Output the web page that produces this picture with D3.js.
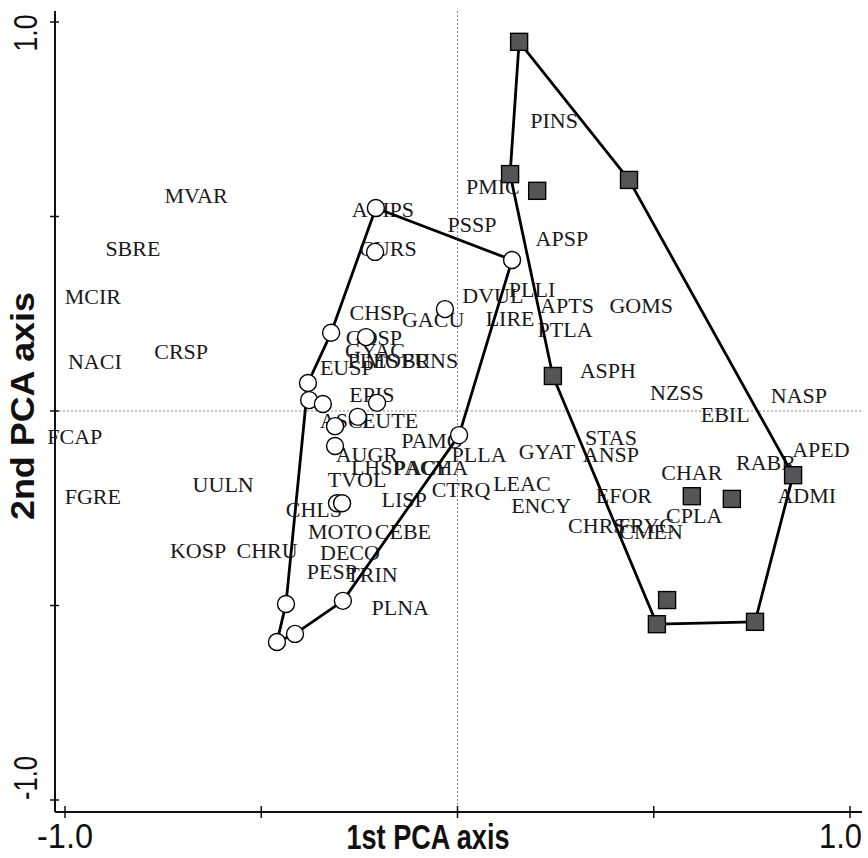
<!DOCTYPE html>
<html>
<head>
<meta charset="utf-8">
<script src="https://cdn.jsdelivr.net/npm/d3@7"></script>
<style>
  html, body { margin: 0; padding: 0; background: #fff; }
  svg { display: block; }
</style>
</head>
<body>
<svg id="chart" width="868" height="858"></svg>
<script>
// ---- Data ----
const labelNames = ["MVAR","SBRE","MCIR","CRSP","NACI","FCAP","UULN","FGRE","KOSP","CHRU",
  "PINS","PMIC","ACIPS","PSSP","CURS","APSP","PLLI","DVUL","APTS","GOMS",
  "CHSP","LIRE","GACU","PTLA","GOSP","GYAC","PLES","MOBR","FUNS","EUSP",
  "ASPH","NZSS","EPIS","NASP","EBIL","ASCI","EUTE","STAS","PAMO","APED",
  "PLLA","ANSP","GYAT","AUGR","RABR","LHSP","PACY","ACHA","CHAR","TVOL",
  "LEAC","CTRQ","ADMI","EFOR","LISP","ENCY","CHLS","CPLA","CHRS","FRYC",
  "CMEN","MOTO","CEBE","DECO","PESP","TRIN","PLNA"];
const labelX = [-0.666,-0.827,-0.929,-0.704,-0.924,-0.975,-0.597,-0.929,-0.661,-0.485,
  0.246,0.090,-0.190,0.037,-0.177,0.266,0.190,0.090,0.279,0.468,
  -0.205,0.134,-0.062,0.274,-0.213,-0.210,-0.215,-0.152,-0.070,-0.282,
  0.383,0.559,-0.218,0.870,0.682,-0.287,-0.172,0.391,-0.065,0.926,
  0.055,0.391,0.228,-0.231,0.786,-0.203,-0.090,-0.052,0.597,-0.256,
  0.164,0.009,0.890,0.424,-0.136,0.213,-0.366,0.603,0.355,0.480,
  0.493,-0.299,-0.139,-0.274,-0.320,-0.218,-0.146];
const labelY = [0.535,0.398,0.275,0.134,0.108,-0.085,-0.208,-0.239,-0.378,-0.378,
  0.728,0.558,0.499,0.460,0.398,0.424,0.293,0.278,0.252,0.252,
  0.234,0.219,0.216,0.190,0.170,0.136,0.111,0.111,0.111,0.093,
  0.085,0.028,0.023,0.021,-0.028,-0.044,-0.044,-0.087,-0.095,-0.118,
  -0.131,-0.131,-0.123,-0.131,-0.152,-0.165,-0.165,-0.165,-0.177,-0.195,
  -0.206,-0.221,-0.237,-0.237,-0.247,-0.262,-0.272,-0.288,-0.314,-0.314,
  -0.329,-0.329,-0.329,-0.383,-0.432,-0.440,-0.524];

// Group 1: open circles
const circleX = [-0.208,-0.210,0.139,-0.032,-0.322,-0.233,-0.381,-0.378,-0.343,-0.205,
  -0.254,-0.312,-0.312,0.004,-0.307,-0.294,-0.437,-0.292,-0.414,-0.460];
const circleY = [0.522,0.409,0.388,0.262,0.201,0.190,0.072,0.028,0.018,0.021,
  -0.015,-0.039,-0.090,-0.062,-0.237,-0.237,-0.496,-0.488,-0.573,-0.594];
const circleHull = [0,2,13,17,18,19,16,6,4];

// Group 2: filled squares
const squareX = [0.157,0.134,0.203,0.437,0.243,0.597,0.699,0.855,0.534,0.508,0.758];
const squareY = [0.949,0.609,0.566,0.594,0.090,-0.219,-0.226,-0.165,-0.486,-0.548,-0.542];
const squareHull = [0,3,7,10,9,4,1];

const xTicks = [-1,-0.5,0,0.5,1];
const yTicks = [-1,-0.5,0,0.5,1];
const xTickLabels = ["-1.0","","","","1.0"];
const yTickLabels = ["-1.0","","","","1.0"];
const xTitle = "1st PCA axis";
const yTitle = "2nd PCA axis";

// ---- Drawing ----
const svg = d3.select("#chart");
const x = d3.scaleLinear().domain([-1,1]).range([65,850]);
const y = d3.scaleLinear().domain([-1,1]).range([800,22]);
const axisX0 = 55, axisY0 = 812, axisXEnd = 862, axisYTop = 11;

// reference dotted lines
svg.append("line").attr("x1", x(0)).attr("x2", x(0)).attr("y1", axisYTop).attr("y2", axisY0)
  .attr("stroke", "#8a8a8a").attr("stroke-width", 1).attr("stroke-dasharray", "2,2");
svg.append("line").attr("x1", axisX0).attr("x2", axisXEnd).attr("y1", y(0)).attr("y2", y(0))
  .attr("stroke", "#8a8a8a").attr("stroke-width", 1).attr("stroke-dasharray", "2,2");

// axes
const gx = svg.append("g").attr("transform", `translate(0,${axisY0})`);
gx.append("line").attr("x1", axisX0).attr("x2", axisXEnd).attr("stroke", "#111").attr("stroke-width", 2);
gx.selectAll("line.tick").data(xTicks).enter().append("line")
  .attr("x1", d => x(d)).attr("x2", d => x(d)).attr("y1", -6).attr("y2", 6)
  .attr("stroke", "#111").attr("stroke-width", 1.5);
gx.selectAll("text.tl").data(xTicks).enter().append("text")
  .attr("x", d => d >= 1 ? 862 : x(d)).attr("y", 36)
  .attr("text-anchor", d => d >= 1 ? "end" : "middle")
  .attr("font-family", "Liberation Sans, Arial, sans-serif").attr("font-size", 35)
  .attr("fill", "#111")
  .attr("textLength", (d,i) => xTickLabels[i] ? (xTickLabels[i].length === 4 ? 56 : 43) : null)
  .attr("lengthAdjust", "spacingAndGlyphs")
  .text((d,i) => xTickLabels[i]);

const gy = svg.append("g").attr("transform", `translate(${axisX0},0)`);
gy.append("line").attr("y1", axisYTop).attr("y2", axisY0).attr("stroke", "#111").attr("stroke-width", 2);
gy.selectAll("line.tick").data(yTicks).enter().append("line")
  .attr("y1", d => y(d)).attr("y2", d => y(d)).attr("x1", -5).attr("x2", 4)
  .attr("stroke", "#111").attr("stroke-width", 1.5);
gy.selectAll("text.tl").data(yTicks).enter().append("text")
  .attr("transform", (d,i) => {
    const cy = d > 0 ? y(d) + 11 : y(d) - 22;
    return `translate(-18,${cy}) rotate(-90)`;
  })
  .attr("text-anchor", "middle")
  .attr("font-family", "Liberation Sans, Arial, sans-serif").attr("font-size", 33)
  .attr("fill", "#111")
  .attr("textLength", (d,i) => yTickLabels[i] ? (yTickLabels[i].length === 4 ? 44 : 37) : null)
  .attr("lengthAdjust", "spacingAndGlyphs")
  .text((d,i) => yTickLabels[i]);

// titles
svg.append("text").attr("x", 428).attr("y", 849).attr("text-anchor", "middle")
  .attr("font-family", "Liberation Sans, Arial, sans-serif").attr("font-weight", "bold")
  .attr("font-size", 35).attr("fill", "#111")
  .attr("textLength", 163).attr("lengthAdjust", "spacingAndGlyphs")
  .text(xTitle);
svg.append("text").attr("transform", "translate(34,406) rotate(-90)").attr("text-anchor", "middle")
  .attr("font-family", "Liberation Sans, Arial, sans-serif").attr("font-weight", "bold")
  .attr("font-size", 33).attr("fill", "#111")
  .attr("textLength", 228).attr("lengthAdjust", "spacingAndGlyphs")
  .text(yTitle);

// species labels
const labels = labelNames.map((n,i) => ({name:n, x:labelX[i], y:labelY[i]}));
svg.append("g").selectAll("text").data(labels).enter().append("text")
  .attr("x", d => x(d.x)).attr("y", d => y(d.y))
  .attr("text-anchor", "middle")
  .attr("font-family", "Liberation Serif, Times New Roman, serif")
  .attr("font-size", 22).attr("fill", "#1a1a1a")
  .text(d => d.name);

// hull polygons
const line = d3.line().x(d => x(d[0])).y(d => y(d[1]));
const circlePoly = circleHull.map(i => [circleX[i], circleY[i]]);
const squarePoly = squareHull.map(i => [squareX[i], squareY[i]]);
[circlePoly, squarePoly].forEach(p => {
  svg.append("path").attr("d", line(p) + "Z")
    .attr("fill", "none").attr("stroke", "#000").attr("stroke-width", 2.8)
    .attr("stroke-linejoin", "round");
});

// markers
svg.append("g").selectAll("circle").data(circleX.map((v,i) => [v, circleY[i]])).enter()
  .append("circle").attr("cx", d => x(d[0])).attr("cy", d => y(d[1])).attr("r", 8.5)
  .attr("fill", "#fff").attr("stroke", "#000").attr("stroke-width", 1.4);
svg.append("g").selectAll("rect").data(squareX.map((v,i) => [v, squareY[i]])).enter()
  .append("rect").attr("x", d => x(d[0]) - 8.5).attr("y", d => y(d[1]) - 8.5)
  .attr("width", 17).attr("height", 17)
  .attr("fill", "#555").attr("stroke", "#000").attr("stroke-width", 1.4);
</script>
</body>
</html>
